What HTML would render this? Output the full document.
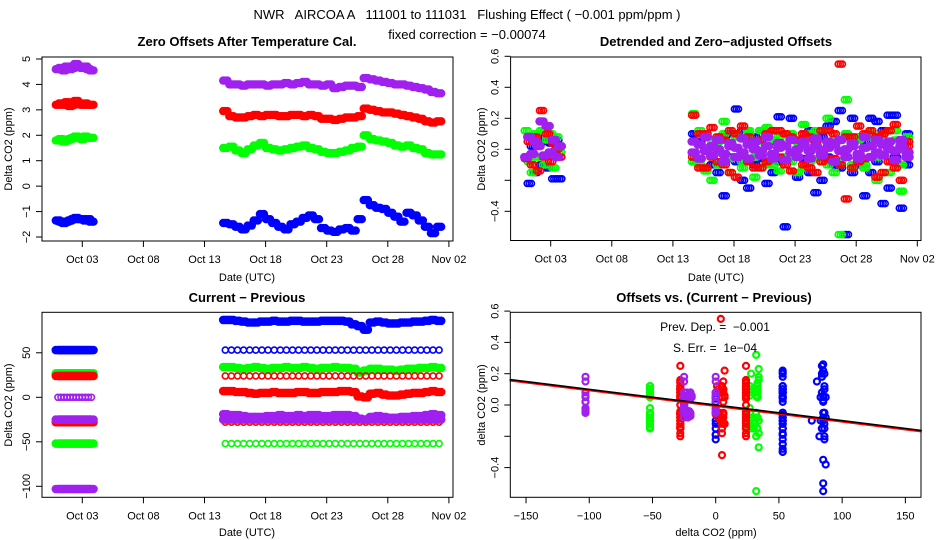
<!DOCTYPE html>
<html><head><meta charset="utf-8">
<style>
html,body{margin:0;padding:0;background:#fff;}
svg{display:block;font-family:"Liberation Sans",sans-serif;}
</style></head>
<body>
<svg id="c" width="936" height="540" viewBox="0 0 936 540">
<rect x="0" y="0" width="936" height="540" fill="#fff"/>
<text x="467" y="19" text-anchor="middle" font-size="13" style="white-space:pre" xml:space="preserve">NWR   AIRCOA A   111001 to 111031   Flushing Effect ( −0.001 ppm/ppm )</text>
<text x="467" y="39" text-anchor="middle" font-size="13">fixed correction = −0.00074</text>
<g id="g"></g>
</svg>
<script>
// ---- data: days (October) ----
const seg1Days = [1.0,1.25,1.5,1.75,2.0,2.25,2.5,2.75,3.0,3.25,3.5,3.75];
const seg2Days = [14.7,15.2,15.7,16.2,16.7,17.2,17.7,18.2,18.7,19.2,19.7,20.2,20.7,21.2,21.7,22.2,22.7,23.2,23.7,24.2,24.7,25.2,25.7,26.2,26.7,27.2,27.7,28.2,28.7,29.2,29.7,30.2,30.7,31.2,31.7,32.2];
// top-left: zero offsets
const tlPurple1 = [4.6,4.65,4.55,4.7,4.6,4.65,4.8,4.7,4.65,4.7,4.6,4.55];
const tlRed1 = [3.2,3.25,3.2,3.3,3.15,3.2,3.35,3.25,3.2,3.25,3.2,3.2];
const tlGreen1 = [1.8,1.85,1.75,1.8,1.85,1.9,1.95,1.9,1.85,1.95,1.9,1.9];
const tlBlue1 = [-1.35,-1.4,-1.45,-1.4,-1.35,-1.3,-1.25,-1.3,-1.3,-1.35,-1.3,-1.4];
const tlPurple2 = [4.15,4.0,4.0,3.95,4.0,4.0,4.0,3.95,4.0,4.0,4.05,4.0,4.05,4.1,4.0,4.0,3.95,4.0,3.85,3.9,3.95,3.95,3.9,4.25,4.2,4.15,4.1,4.05,4.0,4.0,3.95,3.9,3.85,3.8,3.7,3.65];
const tlRed2 = [2.95,2.75,2.7,2.7,2.75,2.8,2.75,2.8,2.8,2.75,2.75,2.8,2.8,2.75,2.8,2.75,2.65,2.65,2.6,2.65,2.7,2.7,2.75,3.05,3.0,2.95,2.9,2.9,2.85,2.8,2.75,2.7,2.65,2.55,2.5,2.55];
const tlGreen2 = [1.5,1.55,1.4,1.3,1.45,1.6,1.7,1.5,1.45,1.4,1.45,1.5,1.55,1.6,1.5,1.45,1.35,1.3,1.3,1.35,1.4,1.5,1.55,2.0,1.85,1.8,1.75,1.7,1.6,1.55,1.6,1.5,1.45,1.3,1.25,1.25];
const tlBlue2 = [-1.45,-1.5,-1.6,-1.7,-1.55,-1.35,-1.1,-1.3,-1.45,-1.6,-1.7,-1.5,-1.4,-1.25,-1.15,-1.3,-1.65,-1.75,-1.8,-1.7,-1.65,-1.75,-1.3,-0.55,-0.75,-0.85,-0.9,-1.05,-1.2,-1.4,-1.05,-1.15,-1.35,-1.6,-1.85,-1.6];
// top-right: detrended residuals
const trBlue1 = [-0.05,-0.22,0.02,-0.15,0.08,-0.1,0.05,-0.12,0.04,-0.19,0.06,-0.19];
const trRed1 = [-0.06,0.05,-0.1,0.08,-0.14,0.25,-0.05,0.1,-0.08,0.04,0.0,-0.05];
const trGreen1 = [0.12,-0.08,-0.15,0.1,-0.05,0.12,-0.1,0.06,0.1,-0.12,0.08,-0.02];
const trPurple1 = [-0.05,0.08,-0.03,0.05,0.02,0.18,-0.04,0.15,-0.02,0.06,-0.05,0.02];
const trBlueA = [-0.08,0.05,-0.12,0.02,-0.15,0.08,-0.05,0.26,-0.2,0.03,-0.1,0.12,-0.22,0.05,-0.08,-0.5,0.2,-0.05,0.1,-0.15,0.06,-0.2,0.15,-0.1,0.25,-0.55,0.2,-0.1,0.05,-0.15,0.18,-0.35,0.22,-0.05,-0.38,0.1];
const trBlueB = [0.1,-0.06,0.08,-0.1,0.05,-0.3,0.1,-0.08,0.12,-0.25,0.08,-0.06,0.1,-0.15,0.21,-0.05,0.08,-0.18,-0.06,0.12,-0.28,0.08,-0.05,0.18,-0.12,0.1,-0.15,0.08,-0.3,0.2,-0.08,0.12,-0.25,0.22,0.05,-0.1];
const trGreenA = [0.23,-0.1,0.08,-0.2,0.05,0.18,-0.15,0.1,-0.08,0.12,-0.18,0.05,0.14,-0.1,0.08,-0.05,0.1,-0.15,0.16,-0.08,0.12,-0.05,0.2,-0.15,-0.55,0.32,-0.1,0.08,-0.12,0.1,-0.2,0.06,-0.08,0.12,-0.27,0.05];
const trGreenB = [-0.08,0.12,-0.14,0.06,-0.1,0.1,-0.06,0.08,-0.12,0.1,-0.05,0.12,-0.1,0.06,-0.14,0.1,-0.08,0.05,-0.12,0.1,-0.06,0.12,-0.1,0.05,-0.08,0.1,-0.12,0.06,-0.1,0.08,-0.05,0.1,-0.15,0.06,-0.1,0.08];
const trRedA = [0.22,-0.12,0.1,-0.05,0.08,-0.1,0.12,-0.18,0.15,-0.08,0.05,-0.12,0.1,-0.06,0.12,-0.1,0.08,-0.05,0.1,-0.12,0.05,-0.08,0.12,-0.06,0.55,-0.32,0.08,-0.08,0.1,-0.05,0.08,-0.15,0.12,-0.12,0.06,0.02];
const trRedB = [-0.05,0.1,-0.12,0.14,-0.08,0.06,-0.15,0.1,-0.04,0.08,-0.12,0.06,-0.08,0.12,-0.05,0.1,-0.14,0.06,-0.1,0.08,-0.15,0.12,-0.06,0.1,-0.1,0.08,-0.12,0.15,-0.06,0.12,-0.18,0.1,-0.08,0.16,-0.2,0.05];
const trPurpleA = [0.05,-0.06,0.08,-0.04,0.06,-0.08,0.04,-0.05,0.07,-0.06,0.05,-0.04,0.08,-0.06,0.04,-0.07,0.06,-0.05,0.05,-0.06,0.07,-0.04,0.05,-0.08,0.06,-0.05,0.04,-0.06,0.08,-0.05,0.06,-0.04,0.05,-0.07,0.06,-0.05];
const trPurpleB = [-0.02,0.03,-0.01,0.02,0.0,-0.03,0.02,0.01,-0.02,0.03,0.0,-0.01,0.02,-0.03,0.01,0.02,-0.02,0.0,0.03,-0.01,0.02,-0.02,0.01,0.03,-0.01,0.0,0.02,-0.03,0.01,0.02,-0.02,0.03,0.0,-0.01,0.02,-0.02];
// bottom-left: current - previous
const blBlueHi = [87,87,86,85,84,84,85,85,86,85,85,86,86,85,85,85,86,86,86,86,85,82,80,76,84,85,84,83,83,84,84,85,85,86,87,86];
const blBlueLow = [53,53,53,53,53,53,53,53,53,53,53,53,53,53,53,53,53,53,53,53,53,53,53,53,53,53,53,53,53,53,53,53,53,53,53,53];
const blGreenHi = [34,34,33,32,33,34,33,32,33,33,34,33,33,34,33,32,33,33,34,33,33,32,28,30,32,32,31,31,30,31,32,32,33,33,34,33];
const blGreenLow = [-52,-52,-52,-52,-52,-52,-52,-52,-52,-52,-52,-52,-52,-52,-52,-52,-52,-52,-52,-52,-52,-52,-52,-52,-52,-52,-52,-52,-52,-52,-52,-52,-52,-52,-52,-52];
const blRedHi = [24,24,24,24,24,24,24,24,24,24,24,24,24,24,24,24,24,24,24,24,24,24,24,24,24,24,24,24,24,24,24,24,24,24,24,24];
const blRedMid = [7,7,6,6,5,4,5,5,6,5,5,5,6,6,5,5,6,6,6,7,7,6,1,0,4,5,3,2,2,3,4,5,5,6,7,6];
const blRedLow = [-28,-28,-28,-28,-28,-28,-28,-28,-28,-28,-28,-28,-28,-28,-28,-28,-28,-28,-28,-28,-28,-28,-28,-28,-28,-28,-28,-28,-28,-28,-28,-28,-28,-28,-28,-28];
const blPurpleHi = [-19,-20,-20,-21,-22,-22,-22,-21,-21,-20,-21,-21,-20,-21,-20,-20,-21,-21,-20,-20,-20,-21,-24,-25,-22,-21,-22,-23,-23,-22,-22,-21,-21,-20,-19,-20];
const blPurpleMid = [-25,-25,-25,-25,-25,-25,-25,-25,-25,-25,-25,-25,-25,-25,-25,-25,-25,-25,-25,-25,-25,-25,-25,-25,-25,-25,-25,-25,-25,-25,-25,-25,-25,-25,-25,-25];
const blBlue1 = [53,53,53,53,53,53,53,53,53,53,53,53];
const blGreen1Hi = [27,27,27,27,27,27,27,27,27,27,27,27];
const blGreen1Low = [-52,-52,-52,-52,-52,-52,-52,-52,-52,-52,-52,-52];
const blRed1Hi = [24,24,24,24,24,24,24,24,24,24,24,24];
const blRed1Low = [-28,-28,-28,-28,-28,-28,-28,-28,-28,-28,-28,-28];
const blPurple1Zero = [0,0,0,0,0,0,0,0,0,0,0,0];
const blPurple1Mid = [-25,-25,-25,-25,-25,-25,-25,-25,-25,-25,-25,-25];
const blPurple1Low = [-103,-103,-103,-103,-103,-103,-103,-103,-103,-103,-103,-103];
// bottom-right fit
const fitSlope = -0.001;
const fitIntercept = 0.0;
// tick labels
const dateTicks = [3,8,13,18,23,28,33];
const dateLabels = ["Oct 03","Oct 08","Oct 13","Oct 18","Oct 23","Oct 28","Nov 02"];
const tlYTicks = [-2,-1,0,1,2,3,4,5];
const trYTicks = [-0.4,-0.2,0.0,0.2,0.4,0.6];
const trYLabels = ["−0.4","","0.0","0.2","0.4","0.6"];
const blYTicks = [-100,-50,0,50];
const blYLabels = ["−100","−50","0","50"];
const brXTicks = [-150,-100,-50,0,50,100,150];
const brXLabels = ["−150","−100","−50","0","50","100","150"];

const BLUE="#0000ff",RED="#ff0000",GREEN="#00ff00",PURPLE="#a020f0";
const NS="http://www.w3.org/2000/svg";
const G=document.getElementById('g');
function el(tag,attrs,parent){const e=document.createElementNS(NS,tag);for(const k in attrs)e.setAttribute(k,attrs[k]);(parent||G).appendChild(e);return e;}

// scales
const tlX=d=>82.3+(d-3)*12.22, tlY=v=>237-(v+2)*25.43;
const trX=d=>550.7+(d-3)*12.22, trY=v=>149.3-v*155;
const blY=v=>397.3-v*0.89;
const brX=v=>715.7+v*1.2644, brY=v=>405-v*156.5;
const DENSE=[-0.17,0,0.17];
const SINGLE=[0];

function frame(name,x0,y0,x1,y1){
  const r=el('rect',{x:x0,y:y0,width:x1-x0,height:y1-y0,fill:'none',stroke:'#000','stroke-width':1});
  
  
}
function txt(s,x,y,opt){
  const t=el('text',Object.assign({x:x,y:y,'font-size':11,'text-anchor':'middle'},opt||{}));
  t.textContent=s;return t;
}
function title(name,s,x,y){
  const t=txt(s,x,y,{'font-size':13,'font-weight':'bold'});
  
  
}
function xAxis(name,ticks,labels,xf,yb){
  for(let i=0;i<ticks.length;i++){
    const x=xf(ticks[i]);
    const l=el('line',{x1:x,x2:x,y1:yb,y2:yb+6,stroke:'#000'});
    
    
    const t=txt(labels[i],x,yb+22);
    
    
  }
}
function yAxis(name,ticks,labels,yf,xl){
  for(let i=0;i<ticks.length;i++){
    const y=yf(ticks[i]);
    const l=el('line',{x1:xl-6,x2:xl,y1:y,y2:y,stroke:'#000'});
    
    
    if(labels[i]!==""){
      const t=txt(labels[i],0,0,{transform:'translate('+(xl-12)+','+y+') rotate(-90)'});
      
      
    }
  }
}
function axisTitles(name,xs,xx,xy,ys,yx,yy){
  const a=txt(xs,xx,xy);
  
  
  const b=txt(ys,0,0,{transform:'translate('+yx+','+yy+') rotate(-90)'});
  
  
}
function pts(name,xs,ys,xf,yf,color,offs,sw){
  const g=el('g',{fill:'none',stroke:color,'stroke-width':sw||1.6});
  
  
  const n=Math.min(xs.length,ys.length);
  const o=offs||SINGLE;
  for(let i=0;i<n;i++){
    for(const d of o){
      const c=el('circle',{cx:xf(xs[i]+d).toFixed(1),cy:yf(ys[i]).toFixed(1),r:3},g);
      
      
    }
  }
}

// ===== Top-left =====
title('zero-offsets','Zero Offsets After Temperature Cal.',247,46);
pts('tl-blue',seg1Days,tlBlue1,tlX,tlY,BLUE,DENSE,2.4);
pts('tl-blue',seg2Days,tlBlue2,tlX,tlY,BLUE,DENSE,2.4);
pts('tl-green',seg1Days,tlGreen1,tlX,tlY,GREEN,DENSE,2.4);
pts('tl-green',seg2Days,tlGreen2,tlX,tlY,GREEN,DENSE,2.4);
pts('tl-red',seg1Days,tlRed1,tlX,tlY,RED,DENSE,2.4);
pts('tl-red',seg2Days,tlRed2,tlX,tlY,RED,DENSE,2.4);
pts('tl-purple',seg1Days,tlPurple1,tlX,tlY,PURPLE,DENSE,2.4);
pts('tl-purple',seg2Days,tlPurple2,tlX,tlY,PURPLE,DENSE,2.4);
frame('tl',42,57,453,241);
xAxis('tl',dateTicks,dateLabels,tlX,241);
yAxis('tl',tlYTicks,tlYTicks.map(v=>v<0?'−'+(-v):String(v)),tlY,42);
axisTitles('tl','Date (UTC)',247,281,'Delta CO2 (ppm)',12,149);

// ===== Top-right =====
title('detrended','Detrended and Zero−adjusted Offsets',716,46);
pts('tr-blue',seg1Days,trBlue1,trX,trY,BLUE,DENSE);
pts('tr-blue',seg2Days,trBlueA,trX,trY,BLUE,DENSE);
pts('tr-blue',seg2Days,trBlueB,trX,trY,BLUE,DENSE);
pts('tr-green',seg1Days,trGreen1,trX,trY,GREEN,DENSE);
pts('tr-green',seg2Days,trGreenA,trX,trY,GREEN,DENSE);
pts('tr-green',seg2Days,trGreenB,trX,trY,GREEN,DENSE);
pts('tr-red',seg1Days,trRed1,trX,trY,RED,DENSE);
pts('tr-red',seg2Days,trRedA,trX,trY,RED,DENSE);
pts('tr-red',seg2Days,trRedB,trX,trY,RED,DENSE);
pts('tr-purple',seg1Days,trPurple1,trX,trY,PURPLE,DENSE,2.4);
pts('tr-purple',seg2Days,trPurpleA,trX,trY,PURPLE,DENSE,2.4);
pts('tr-purple',seg2Days,trPurpleB,trX,trY,PURPLE,DENSE,2.4);
frame('tr',510.6,57,921,240.5);
xAxis('tr',dateTicks,dateLabels,trX,240.5);
yAxis('tr',trYTicks,trYLabels,trY,510.6);
axisTitles('tr','Date (UTC)',716,281,'Delta CO2 (ppm)',485,149);

// ===== Bottom-left =====
title('current-previous','Current − Previous',247,302);
pts('bl-blue',seg2Days,blBlueHi,tlX,blY,BLUE,DENSE,2.6);
pts('bl-blue',seg2Days,blBlueLow,tlX,blY,BLUE);
pts('bl-blue',seg1Days,blBlue1,tlX,blY,BLUE,DENSE,2.6);
pts('bl-green',seg2Days,blGreenHi,tlX,blY,GREEN,DENSE,2.6);
pts('bl-green',seg2Days,blGreenLow,tlX,blY,GREEN);
pts('bl-green',seg1Days,blGreen1Hi,tlX,blY,GREEN,DENSE,2.6);
pts('bl-green',seg1Days,blGreen1Low,tlX,blY,GREEN,DENSE,2.6);
pts('bl-red',seg2Days,blRedHi,tlX,blY,RED);
pts('bl-red',seg2Days,blRedMid,tlX,blY,RED,DENSE,2.6);
pts('bl-red',seg2Days,blRedLow,tlX,blY,RED);
pts('bl-red',seg1Days,blRed1Hi,tlX,blY,RED,DENSE,2.6);
pts('bl-red',seg1Days,blRed1Low,tlX,blY,RED,DENSE,2.6);
pts('bl-purple',seg2Days,blPurpleHi,tlX,blY,PURPLE,DENSE,2.6);
pts('bl-purple',seg2Days,blPurpleMid,tlX,blY,PURPLE,DENSE,2.6);
pts('bl-purple',seg1Days,blPurple1Zero,tlX,blY,PURPLE);
pts('bl-purple',seg1Days,blPurple1Mid,tlX,blY,PURPLE,DENSE,2.6);
pts('bl-purple',seg1Days,blPurple1Low,tlX,blY,PURPLE,DENSE,2.6);
frame('bl',42,312.3,453,497.3);
xAxis('bl',dateTicks,dateLabels,tlX,497.3);
yAxis('bl',blYTicks,blYLabels,blY,42);
axisTitles('bl','Date (UTC)',247,536,'Delta CO2 (ppm)',12,405);

// ===== Bottom-right =====
title('offsets-vs-cp','Offsets vs. (Current − Previous)',714,302);
pts('br-blue',blBlueHi,trBlueA,brX,brY,BLUE,SINGLE,2.2);
pts('br-blue',blBlueLow,trBlueB,brX,brY,BLUE,SINGLE,2.2);
pts('br-blue',blBlue1,trBlue1,brX,brY,BLUE,SINGLE,2.2);
pts('br-blue',blPurple1Zero,trBlue1,brX,brY,BLUE,SINGLE,2.2);
pts('br-green',blGreenHi,trGreenA,brX,brY,GREEN,SINGLE,2.2);
pts('br-green',blGreenLow,trGreenB,brX,brY,GREEN,SINGLE,2.2);
pts('br-green',blGreen1Hi,trGreen1,brX,brY,GREEN,SINGLE,2.2);
pts('br-green',blGreen1Low,trGreen1,brX,brY,GREEN,SINGLE,2.2);
pts('br-red',blRedHi,trRedB,brX,brY,RED,SINGLE,2.2);
pts('br-red',blRedMid,trRedA,brX,brY,RED,SINGLE,2.2);
pts('br-red',blRedLow,trRedB,brX,brY,RED,SINGLE,2.2);
pts('br-red',blRed1Hi,trRed1,brX,brY,RED,SINGLE,2.2);
pts('br-red',blRed1Low,trRed1,brX,brY,RED,SINGLE,2.2);
pts('br-purple',blPurpleHi,trPurpleA,brX,brY,PURPLE,SINGLE,2.2);
pts('br-purple',blPurpleMid,trPurpleB,brX,brY,PURPLE,SINGLE,2.2);
pts('br-purple',blPurple1Zero,trPurple1,brX,brY,PURPLE,SINGLE,2.2);
pts('br-purple',blPurple1Mid,trPurple1,brX,brY,PURPLE,SINGLE,2.2);
pts('br-purple',blPurple1Low,trPurple1,brX,brY,PURPLE,SINGLE,2.2);
{
  const xa=-163,xb=163;
  const r=el('line',{x1:brX(xa),y1:brY(fitIntercept+fitSlope*xa)+1,x2:brX(xb),y2:brY(fitIntercept+fitSlope*xb)+1,stroke:RED,'stroke-width':2});
  
  
  const b=el('line',{x1:brX(xa),y1:brY(fitIntercept+fitSlope*xa),x2:brX(xb),y2:brY(fitIntercept+fitSlope*xb),stroke:'#000','stroke-width':1.6});
  
  
}
frame('br',510.3,312.3,921,497.3);
xAxis('br',brXTicks,brXLabels,brX,497.3);
yAxis('br',trYTicks,trYLabels,brY,510.3);
axisTitles('br','delta CO2 (ppm)',716,536,'delta CO2 (ppm)',485,405);
{
  const a=txt('Prev. Dep. =  −0.001',715,331,{'font-size':12,style:'white-space:pre'});
  
  
  const b=txt('S. Err. =  1e−04',715,352,{'font-size':12,style:'white-space:pre'});
  
  
}
</script>
</body></html>
